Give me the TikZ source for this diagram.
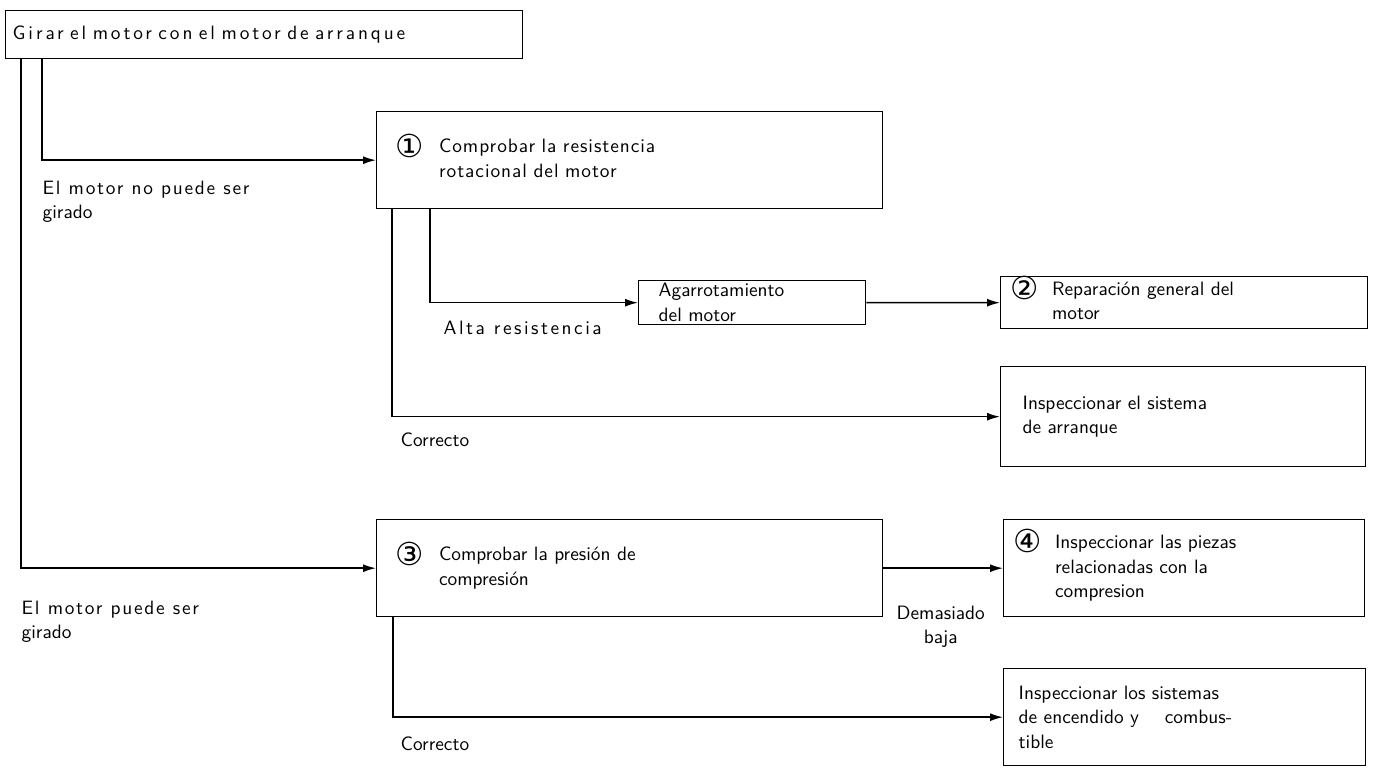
\documentclass[tikz,border=0pt]{standalone}
\usepackage{fontspec}
\setsansfont{Latin Modern Sans}
\usetikzlibrary{arrows.meta}
\newfontfamily\numfont{DejaVu Sans}
\newcommand{\cnum}[1]{\smash{\raisebox{-2.5pt}{\numfont\fontsize{18}{18}\selectfont #1}}}
\newcommand{\wide}[1]{\addfontfeature{LetterSpace=#1}}

\begin{document}
\begin{tikzpicture}[
    x=0.02cm, y=-0.02cm,
    box/.style={draw, line width=0.8pt, anchor=north west, align=left, inner ysep=0pt, font=\sffamily\fontsize{11}{14}\selectfont},
    lbl/.style={inner sep=0pt, align=left, font=\sffamily\fontsize{11}{14}\selectfont},
    >={Latex[length=2.6mm,width=1.6mm]},
]
    \useasboundingbox (0,0) rectangle (1376,770);

    \node[box, minimum width=10.34cm, minimum height=0.96cm, inner xsep=0.14cm, text width=10.06cm] (gir) at (5,10) {\wide{15}Girar el motor con el motor de arranque};
    \node[box, minimum width=10.12cm, minimum height=1.94cm, inner xsep=0.38cm, text width=9.36cm] (chk) at (376,111)
        {\begin{tabular}{@{}l@{\hspace{0.3cm}}l@{}}\cnum{①} & \wide{5}Comprobar la resistencia\\ & \wide{5}rotacional del motor\end{tabular}};
    \node[box, minimum width=4.54cm, minimum height=0.88cm, inner xsep=0.40cm, text width=3.74cm] (agar) at (638,280) {Agarrotamiento\\del motor};
    \node[box, minimum width=7.34cm, minimum height=1.04cm, inner xsep=0.20cm, text width=6.94cm] (rep) at (1000,276)
        {\begin{tabular}{@{}l@{\hspace{0.26cm}}l@{}}\cnum{②} & Reparación general del\\ & motor\end{tabular}};
    \node[box, minimum width=7.30cm, minimum height=2.00cm, inner xsep=0.44cm, text width=6.42cm] (arr) at (1000,366) {Inspeccionar el sistema\\de arranque};
    \node[box, minimum width=10.12cm, minimum height=1.94cm, inner xsep=0.38cm, text width=9.36cm] (cmp) at (376,519)
        {\begin{tabular}{@{}l@{\hspace{0.3cm}}l@{}}\cnum{③} & Comprobar la presión de\\ & compresión\end{tabular}};
    \node[box, minimum width=7.22cm, minimum height=1.94cm, inner xsep=0.20cm, text width=6.82cm] (pzs) at (1003,519)
        {\begin{tabular}{@{}l@{\hspace{0.26cm}}l@{}}\cnum{④} & Inspeccionar las piezas\\ & relacionadas con la\\ & compresion\end{tabular}};
    \node[box, minimum width=7.24cm, minimum height=1.94cm, inner xsep=0.30cm, text width=6.64cm] (enc) at (1003,668)
        {Inspeccionar los sistemas\\de encendido y \quad combus-\\tible};

    \coordinate (tr1) at ([xshift=0.32cm]gir.south west);
    \coordinate (tr2) at ([xshift=0.74cm]gir.south west);
    \coordinate (c1) at ([xshift=0.32cm]chk.south west);
    \coordinate (c2) at ([xshift=1.08cm]chk.south west);
    \coordinate (c3) at ([xshift=0.34cm]cmp.south west);

    \draw[->, line width=0.8pt] (tr2) |- node[lbl, pos=0.5, anchor=north west, yshift=-0.4cm] {\wide{9}El motor no puede ser\\girado} (chk.west);
    \draw[->, line width=0.8pt] (tr1) |- node[lbl, pos=0.5, anchor=north west, yshift=-0.64cm] {\wide{9}El motor puede ser\\girado} (cmp.west);
    \draw[->, line width=0.8pt] (c2) |- node[lbl, pos=0.5, anchor=north west, xshift=0.26cm, yshift=-0.36cm] {\wide{13}Alta resistencia} (agar.west);
    \draw[->, line width=0.8pt] (agar.east) -- (rep.west);
    \draw[->, line width=0.8pt] (c1) |- node[lbl, pos=0.5, anchor=north west, xshift=0.16cm, yshift=-0.3cm] {Correcto} (arr.west);
    \draw[->, line width=0.8pt] (cmp.east) -- node[lbl, pos=0.48, anchor=north, align=center, yshift=-0.74cm] {Demasiado\\baja} (pzs.west);
    \draw[->, line width=0.8pt] (c3) |- node[lbl, pos=0.5, anchor=north west, xshift=0.14cm, yshift=-0.38cm] {Correcto} (enc.west);
\end{tikzpicture}
\end{document}
